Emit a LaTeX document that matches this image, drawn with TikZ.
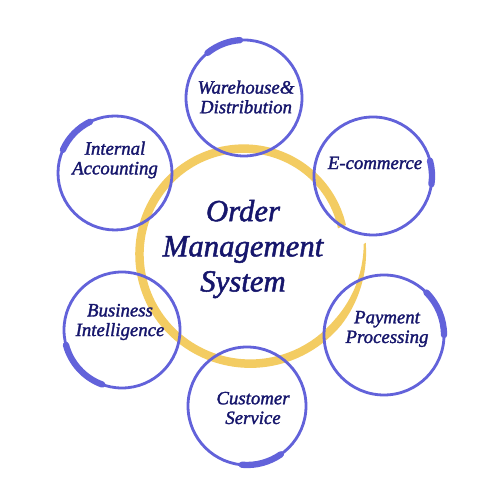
\documentclass[tikz,border=0pt]{standalone}
\usepackage{fontspec}
\setmainfont{Liberation Serif}[ItalicFeatures={FakeBold=1.6}]
\usepackage{xcolor}
\definecolor{ringblue}{RGB}{98,98,218}
\definecolor{ringyellow}{RGB}{243,204,98}
\definecolor{labelnavy}{RGB}{22,22,108}
\tikzset{
    ringthin/.style={draw=ringblue, line width=1.6pt},
    ringthick/.style={draw=ringblue, line width=3.6pt, line cap=round},
    ringlabel/.style={align=center, text=labelnavy, inner sep=0pt,
        font=\fontsize{10.7}{11.2}\selectfont\itshape},
    hubtext/.style={align=center, text=labelnavy, inner sep=0pt,
        font=\fontsize{17.5}{20}\selectfont\itshape}
}

\begin{document}
\begin{tikzpicture}
    \fill[white] (0,0) rectangle (10,10);
    \useasboundingbox (0,0) rectangle (10,10);
    \begin{scope}[shift={(4.94,4.98)}]
        \fill[ringyellow] plot[domain=0:1, samples=150, variable=\t]
            ({4-350*\t}:{2.36-0.40*\t+0.02+0.065*min(1,\t/0.12)})
            -- plot[domain=1:0, samples=150, variable=\t]
            ({4-350*\t}:{2.36-0.40*\t-0.02-0.065*min(1,\t/0.12)}) -- cycle;
    \end{scope}
    \foreach \px/\py/\rad/\sa/\ea in {
        4.88/8.04/1.16/94/129,
        7.46/6.48/1.18/-8/15,
        7.68/3.30/1.20/0/45,
        4.94/1.88/1.18/-95/-55,
        2.44/3.40/1.16/195/250,
        2.30/6.54/1.14/116/156
    } {
        \draw[ringthin] (\px,\py) circle[radius=\rad];
        \draw[ringthick] (\px,\py) ++(\sa:\rad) arc[start angle=\sa, end angle=\ea, radius=\rad];
    }
    \node[ringlabel] (wd) at (4.92,8.06) {Warehouse\&\\Distribution};
    \node[ringlabel] (ec) at (7.50,6.74) {E-commerce};
    \node[ringlabel] (pp) at (7.74,3.42) {Payment\\Processing};
    \node[ringlabel] (cs) at (5.06,1.84) {Customer\\Service};
    \node[ringlabel] (bi) at (2.40,3.56) {Business\\Intelligence};
    \node[ringlabel] (ia) at (2.30,6.80) {Internal\\Accounting};
    \node[hubtext] (oms) at (4.86,5.02) {Order\\Management\\System};
\end{tikzpicture}
\end{document}
